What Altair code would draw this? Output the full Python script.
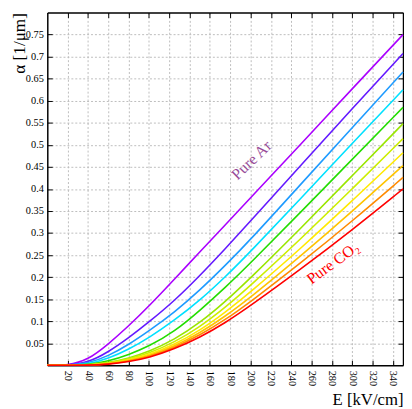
import altair as alt
import pandas as pd

# Field strength grid (kV/cm)
E = [0, 20, 40, 60, 80, 100, 125, 150, 175, 200, 250, 300, 350]

series = ["Ar/CO2 100/0", "90/10", "80/20", "70/30", "60/40", "50/50",
          "40/60", "30/70", "20/80", "10/90", "0/100"]

a0 = [0, 0, 0.012, 0.048, 0.089, 0.134, 0.195, 0.257, 0.318, 0.380, 0.503, 0.627, 0.750]
a1 = [0, 0, 0.006, 0.030, 0.062, 0.098, 0.146, 0.203, 0.264, 0.327, 0.455, 0.582, 0.707]
a2 = [0, 0, 0.004, 0.021, 0.047, 0.078, 0.120, 0.170, 0.226, 0.285, 0.412, 0.539, 0.665]
a3 = [0, 0, 0.002, 0.015, 0.036, 0.062, 0.102, 0.147, 0.200, 0.258, 0.380, 0.503, 0.625]
a4 = [0, 0, 0.001, 0.009, 0.024, 0.043, 0.076, 0.124, 0.176, 0.232, 0.349, 0.467, 0.585]
a5 = [0, 0, 0.001, 0.006, 0.016, 0.031, 0.058, 0.096, 0.144, 0.198, 0.312, 0.430, 0.548]
a6 = [0, 0, 0.000, 0.005, 0.014, 0.027, 0.052, 0.087, 0.131, 0.181, 0.288, 0.400, 0.514]
a7 = [0, 0, 0.000, 0.004, 0.012, 0.024, 0.047, 0.079, 0.120, 0.166, 0.266, 0.373, 0.482]
a8 = [0, 0, 0.000, 0.003, 0.010, 0.021, 0.043, 0.073, 0.111, 0.154, 0.249, 0.349, 0.453]
a9 = [0, 0, 0.000, 0.003, 0.009, 0.019, 0.040, 0.068, 0.103, 0.144, 0.233, 0.327, 0.426]
a10 = [0, 0, 0.000, 0.002, 0.008, 0.017, 0.037, 0.063, 0.096, 0.135, 0.219, 0.307, 0.400]
curves = [a0, a1, a2, a3, a4, a5, a6, a7, a8, a9, a10]

colors = ["#aa00ff", "#6418ff", "#1e9bff", "#00e1ff", "#22dd00", "#99e600",
          "#ccee00", "#ffea00", "#ffc400", "#ff8a00", "#ff0000"]

x_ticks = list(range(20, 341, 20))
y_ticks = [0.05, 0.1, 0.15, 0.2, 0.25, 0.3, 0.35, 0.4, 0.45, 0.5, 0.55, 0.6, 0.65, 0.7, 0.75]

ann_text = ["Pure Ar", "Pure CO₂"]
ann_E = [201, 281]
ann_a = [0.465, 0.232]
ann_angle = [316, 324]
ann_color = ["#984c98", "#ff0000"]

rows = []
for name, vals in zip(series, curves):
    for e, v in zip(E, vals):
        rows.append({"E": e, "alpha": v, "mix": name})
df = pd.DataFrame(rows)

ann = pd.DataFrame({"t": ann_text, "E": ann_E, "a": ann_a,
                    "ang": ann_angle, "c": ann_color})

FONT = "Liberation Serif"
xscale = alt.Scale(domain=[0, 350], nice=False, zero=False)
yscale = alt.Scale(domain=[0, 0.8], nice=False, zero=False)
inward = {"expr": "-5"}

lines = alt.Chart(df).mark_line(strokeWidth=1.6, interpolate="basis").encode(
    x=alt.X("E:Q", scale=xscale,
            axis=alt.Axis(orient="bottom", values=x_ticks, title="E [kV/cm]",
                          labelAngle=90, labelAlign="left", labelBaseline="middle",
                          labelPadding=10, tickSize=inward, tickColor="black",
                          domainColor="black", domainWidth=1.5,
                          grid=True, gridDash=[2, 2], gridColor="#bdbdbd",
                          labelFont=FONT, labelFontSize=10.5, labelColor="black",
                          titleFont=FONT, titleFontSize=17, titleFontWeight="normal",
                          titleColor="black", titleAlign="right", titleAnchor="end",
                          titleX=362, titleY=27, titleBaseline="top", labelFlush=False)),
    y=alt.Y("alpha:Q", scale=yscale,
            axis=alt.Axis(orient="left", values=y_ticks, title="α [1/μm]",
                          format=".2~f",
                          labelPadding=9, tickSize=inward, tickColor="black",
                          domainColor="black", domainWidth=1.5,
                          grid=True, gridDash=[2, 2], gridColor="#bdbdbd",
                          labelFont=FONT, labelFontSize=10.5, labelColor="black",
                          titleFont=FONT, titleFontSize=17.5, titleFontWeight="normal",
                          titleColor="black", titleAngle=270, titleAlign="right",
                          titleBaseline="middle", titleX=-28, titleY=0,
                          labelFlush=False)),
    color=alt.Color("mix:N", scale=alt.Scale(domain=series, range=colors), legend=None),
    detail="mix:N",
)

texts = alt.Chart(ann).mark_text(font=FONT, fontSize=16, align="center",
                                 baseline="middle").encode(
    x=alt.X("E:Q", scale=xscale,
            axis=alt.Axis(orient="top", values=x_ticks, labels=False, title=None,
                          tickSize=inward, tickColor="black", grid=False,
                          domainColor="black", domainWidth=1.5)),
    y=alt.Y("a:Q", scale=yscale,
            axis=alt.Axis(orient="right", values=y_ticks, labels=False, title=None,
                          tickSize=inward, tickColor="black", grid=False,
                          domainColor="black", domainWidth=1.5)),
    text="t:N",
    angle=alt.Angle("ang:Q", scale=None),
    color=alt.Color("c:N", scale=None),
)

chart = alt.layer(lines, texts).resolve_axis(x="independent", y="independent").properties(
    width=362, height=359,
    autosize=alt.AutoSizeParams(type="none"),
    padding={"left": 40, "top": 1, "right": 1, "bottom": 50},
).configure_view(stroke="transparent")

chart.save("out.html", embed_options={"renderer": "svg", "actions": False})
